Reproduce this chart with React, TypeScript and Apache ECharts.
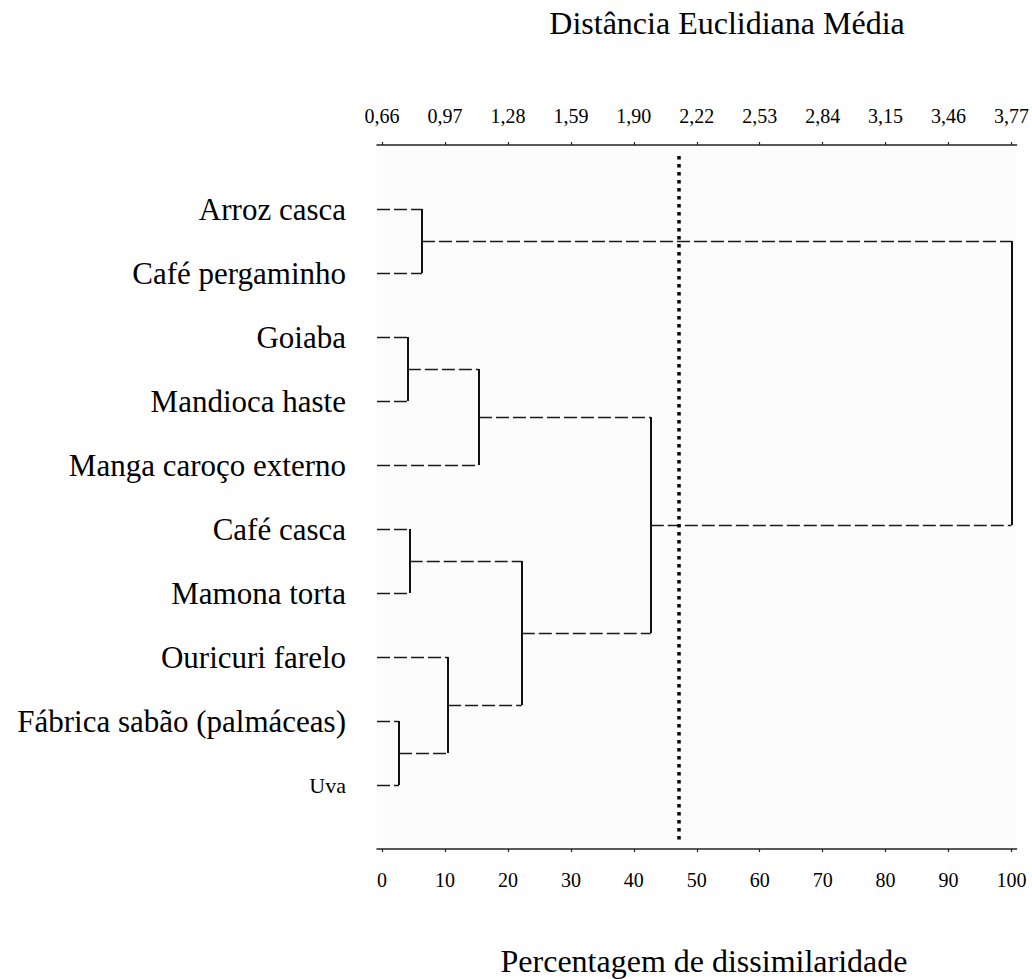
import React, { useEffect, useRef } from "react";
import * as echarts from "echarts";

// Leaves of the dendrogram, top to bottom
const leafNames = [
  "Arroz casca",
  "Café pergaminho",
  "Goiaba",
  "Mandioca haste",
  "Manga caroço externo",
  "Café casca",
  "Mamona torta",
  "Ouricuri farelo",
  "Fábrica sabão (palmáceas)",
  "Uva",
];

// Agglomeration steps: node ids < 10 are leaves, ids >= 10 are earlier merges (10 + step index)
const mergeA = [0, 2, 11, 5, 8, 7, 13, 12, 10];
const mergeB = [1, 3, 4, 6, 9, 14, 15, 16, 17];
const mergeHeight = [6.35, 4.1, 15.4, 4.4, 2.7, 10.5, 22.2, 42.7, 100];

// Cut level (percentage of dissimilarity)
const cutLevel = 47.1;

// Axis ticks
const percentTicks = [0, 10, 20, 30, 40, 50, 60, 70, 80, 90, 100];
const distanceLabels = ["0,66", "0,97", "1,28", "1,59", "1,90", "2,22", "2,53", "2,84", "3,15", "3,46", "3,77"];

const FONT = '"Liberation Serif", "Times New Roman", serif';
const X_MIN = -0.8;
const X_MAX = 100.8;

function buildSegments() {
  const nodeX: number[] = leafNames.map(() => X_MIN);
  const nodeY: number[] = leafNames.map((_, i) => i);
  const horizontal: { coords: number[][] }[] = [];
  const vertical: { coords: number[][] }[] = [];
  mergeHeight.forEach((h, k) => {
    const a = mergeA[k];
    const b = mergeB[k];
    horizontal.push({ coords: [[nodeX[a], nodeY[a]], [h, nodeY[a]]] });
    horizontal.push({ coords: [[nodeX[b], nodeY[b]], [h, nodeY[b]]] });
    vertical.push({ coords: [[h, nodeY[a]], [h, nodeY[b]]] });
    nodeX.push(h);
    nodeY.push((nodeY[a] + nodeY[b]) / 2);
  });
  return { horizontal, vertical };
}

export default function App() {
  const ref = useRef<HTMLDivElement>(null);

  useEffect(() => {
    if (!ref.current) return;
    const chart = echarts.init(ref.current, null, { renderer: "svg" });
    const { horizontal, vertical } = buildSegments();

    const axisBase = {
      type: "value",
      min: X_MIN,
      max: X_MAX,
      splitLine: { show: false },
      axisLine: { show: true, onZero: false, lineStyle: { color: "#222", width: 1.5 } },
      axisTick: { show: true, customValues: percentTicks, length: 3, lineStyle: { color: "#222", width: 1.2 } },
    };

    chart.setOption({
      animation: false,
      backgroundColor: "#ffffff",
      grid: {
        left: 377,
        right: 15,
        top: 145,
        bottom: 130,
        show: true,
        backgroundColor: "#fcfcfc",
        borderWidth: 0,
      },
      xAxis: [
        {
          ...axisBase,
          position: "bottom",
          axisLabel: {
            customValues: percentTicks,
            color: "#000",
            fontFamily: FONT,
            fontSize: 20,
            margin: 21,
            formatter: (v: number) => String(v),
          },
        },
        {
          ...axisBase,
          position: "top",
          axisLabel: {
            customValues: percentTicks,
            color: "#000",
            fontFamily: FONT,
            fontSize: 20,
            margin: 19,
            formatter: (v: number) => {
              const i = percentTicks.indexOf(Math.round(v));
              return i >= 0 ? distanceLabels[i] : "";
            },
          },
        },
      ],
      yAxis: {
        type: "value",
        inverse: true,
        min: -1,
        max: 10,
        splitLine: { show: false },
        axisLine: { show: false, onZero: false },
        axisTick: { show: false },
        axisLabel: {
          customValues: leafNames.map((_, i) => i),
          margin: 31,
          color: "#000",
          fontFamily: FONT,
          fontSize: 31,
          formatter: (v: number) => {
            const name = leafNames[Math.round(v)] ?? "";
            return name === "Uva" ? "{small|" + name + "}" : name;
          },
          rich: {
            small: { fontFamily: FONT, fontSize: 22, color: "#000" },
          },
        },
      },
      series: [
        {
          type: "lines",
          coordinateSystem: "cartesian2d",
          silent: true,
          lineStyle: { color: "#1a1a1a", width: 1.4, type: [13, 4], opacity: 1 },
          data: horizontal,
        },
        {
          type: "lines",
          coordinateSystem: "cartesian2d",
          silent: true,
          lineStyle: { color: "#111", width: 2, type: "solid", opacity: 1 },
          data: vertical,
        },
        {
          type: "lines",
          coordinateSystem: "cartesian2d",
          silent: true,
          lineStyle: { color: "#000", width: 3.5, type: [3.5, 4.5], opacity: 1 },
          data: [{ coords: [[cutLevel, -0.83], [cutLevel, 9.9]] }],
        },
      ],
      graphic: [
        {
          type: "text",
          x: 727,
          y: 23,
          style: {
            text: "Distância Euclidiana Média",
            font: "32px " + FONT,
            fill: "#000",
            textAlign: "center",
            textVerticalAlign: "middle",
          },
        },
        {
          type: "text",
          x: 704,
          y: 961,
          style: {
            text: "Percentagem de dissimilaridade",
            font: "32px " + FONT,
            fill: "#000",
            textAlign: "center",
            textVerticalAlign: "middle",
          },
        },
      ],
    });

    return () => chart.dispose();
  }, []);

  return (
    <div
      ref={ref}
      style={{ position: "fixed", left: 0, top: 0, width: 1032, height: 979 }}
    />
  );
}
